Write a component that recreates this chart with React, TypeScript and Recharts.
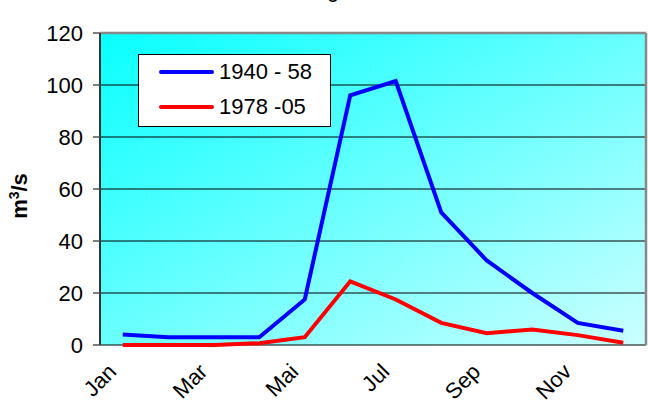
import React from 'react';
import {
  LineChart, Line, XAxis, YAxis, CartesianGrid, ReferenceLine,
} from 'recharts';

const months = ['Jan', 'Feb', 'Mar', 'Apr', 'Mai', 'Jun', 'Jul', 'Aug', 'Sep', 'Okt', 'Nov', 'Dez'];
const early = [4, 3, 3, 3, 17.5, 96, 101.5, 51, 32.5, 20, 8.5, 5.5];   // 1940 - 58
const late = [0, 0, 0, 0.7, 3, 24.5, 17.5, 8.5, 4.5, 6, 3.8, 0.9];     // 1978 -05
const yTicks = [0, 20, 40, 60, 80, 100, 120];
const labelTicks = [1, 3, 5, 7, 9, 11];
const markTicks = [0.5, 1.5, 2.5, 3.5, 4.5, 5.5, 6.5, 7.5, 8.5, 9.5, 10.5, 11.5, 12.5];

const series = [
  { key: 'early', name: '1940 - 58', color: '#0000ff' },
  { key: 'late', name: '1978 -05', color: '#ff0000' },
];

const data = months.map((m, i) => ({ m: i + 1, name: m, early: early[i], late: late[i] }));

const FONT = '"Liberation Sans", Arial, sans-serif';

const MonthTick = ({ x, y, payload }: any) => (
  <g transform={`translate(${x - 5},${y + 20})`}>
    <text textAnchor="end" transform="rotate(-45)" fontSize={22} fontFamily={FONT} fill="#000">
      {months[payload.value - 1]}
    </text>
  </g>
);

// legend drawn as a plain box over the plot (Recharts' Legend would eat chart height)
const LegendBox = () => (
  <div style={{
    position: 'absolute', top: 54, left: 138, width: 191, height: 71,
    border: '1px solid #000', background: '#fff',
    fontFamily: FONT, fontSize: 22, color: '#000',
  }}>
    {series.map((s, i) => (
      <div key={s.key} style={{ position: 'absolute', left: 20, top: 4 + i * 35, display: 'flex', alignItems: 'center', height: 26 }}>
        <span style={{ display: 'inline-block', width: 55, height: 4, background: s.color, borderRadius: 2 }} />
        <span style={{ marginLeft: 5, lineHeight: '26px', whiteSpace: 'nowrap' }}>{s.name}</span>
      </div>
    ))}
  </div>
);

export default function App() {
  return (
    <div style={{ position: 'fixed', top: 0, left: 0, width: 648, height: 407, background: '#fff', overflow: 'hidden' }}>
      <div style={{ position: 'absolute', top: -23, left: 327, fontFamily: FONT, fontSize: 22 }}>g</div>
      <LineChart width={648} height={407} data={data} margin={{ top: 33, right: 2, bottom: 0, left: 0 }}>
        <defs>
          <linearGradient id="bg" x1="0" y1="0" x2="1" y2="1">
            <stop offset="0%" stopColor="#08ffff" />
            <stop offset="100%" stopColor="#ccffff" />
          </linearGradient>
        </defs>
        <CartesianGrid vertical={false} stroke="#000" strokeWidth={1} fill="url(#bg)" fillOpacity={1} />
        <XAxis
          xAxisId="marks" type="number" dataKey="m" domain={[0.5, 12.5]} ticks={markTicks}
          tick={false} height={0} tickSize={7} stroke="#333" strokeWidth={1.5}
          tickLine={{ stroke: '#555', strokeWidth: 1.5 }}
        />
        <XAxis
          xAxisId="lab" type="number" dataKey="m" domain={[0.5, 12.5]} ticks={labelTicks}
          interval={0} tickLine={false} axisLine={false} height={62} tick={<MonthTick />}
        />
        <YAxis
          domain={[0, 120]} ticks={yTicks} width={100} tickSize={7} tickMargin={10}
          axisLine={{ stroke: '#333', strokeWidth: 2 }}
          tickLine={{ stroke: '#555', strokeWidth: 1.5 }}
          tick={{ fontSize: 22, fontFamily: FONT, fill: '#000' }}
          label={({ viewBox }: any) => (
            <text
              x={27} y={viewBox.y + viewBox.height / 2 + 7}
              transform={`rotate(-90, 27, ${viewBox.y + viewBox.height / 2 + 7})`}
              textAnchor="middle" fontSize={22} fontWeight="bold" fontFamily={FONT} fill="#000"
            >
              m<tspan fontSize={14} dy={-8}>3</tspan><tspan dy={8}>/s</tspan>
            </text>
          )}
        />
        <ReferenceLine xAxisId="lab" y={120} stroke="#888" strokeWidth={2.5} />
        <ReferenceLine xAxisId="lab" x={12.5} stroke="#888" strokeWidth={2.5} />
        {series.map(s => (
          <Line
            key={s.key} xAxisId="lab" type="linear" dataKey={s.key} name={s.name}
            stroke={s.color} strokeWidth={4} dot={false} isAnimationActive={false}
          />
        ))}
      </LineChart>
      <LegendBox />
    </div>
  );
}
